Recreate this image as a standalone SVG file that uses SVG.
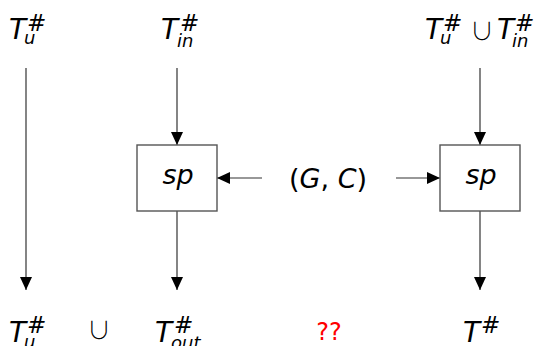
<svg xmlns="http://www.w3.org/2000/svg" width="540" height="346" viewBox="0 0 540 346">
<defs>
<style>
.m{font-family:"DejaVu Sans","Liberation Sans",sans-serif;font-style:italic;fill:#000}
.T{font-size:28px}
.sup{font-size:23px}
.sub{font-size:18px}
.u{font-family:"Noto Sans CJK JP","DejaVu Sans",sans-serif;font-size:24px;font-weight:300;fill:#000}
.ln{stroke:#333;stroke-width:1.2;fill:none}
.box{fill:#fff;stroke:#555;stroke-width:1.4}
.red{font-family:"DejaVu Sans","Liberation Sans",sans-serif;font-size:24px;fill:#f00}
</style>
<marker id="ah" viewBox="0 0 13 12" refX="13" refY="6" markerWidth="13" markerHeight="12" markerUnits="userSpaceOnUse" orient="auto">
<path d="M0,0 L13,6 L0,12 Z" fill="#000"/>
</marker>
</defs>
<rect width="540" height="346" fill="#fff"/>
<g id="connectors">
<line class="ln" x1="26" y1="68" x2="26" y2="290" marker-end="url(#ah)"/>
<line class="ln" x1="177" y1="68" x2="177" y2="145" marker-end="url(#ah)"/>
<line class="ln" x1="177" y1="211" x2="177" y2="290" marker-end="url(#ah)"/>
<line class="ln" x1="480" y1="68" x2="480" y2="145" marker-end="url(#ah)"/>
<line class="ln" x1="480" y1="211" x2="480" y2="290" marker-end="url(#ah)"/>
<line class="ln" x1="262" y1="178" x2="217" y2="178" marker-end="url(#ah)"/>
<line class="ln" x1="396" y1="178" x2="440" y2="178" marker-end="url(#ah)"/>
</g>
<g id="sp1">
<rect class="box" x="137" y="145" width="80" height="66"/>
<text class="m" x="178" y="184" font-size="27" text-anchor="middle">sp</text>
</g>
<g id="sp2">
<rect class="box" x="440" y="145" width="80" height="66"/>
<text class="m" x="481" y="184" font-size="27" text-anchor="middle">sp</text>
</g>
<g id="GC">
<text class="m" x="328" y="188" font-size="27" text-anchor="middle"><tspan font-style="normal">(</tspan>G<tspan font-style="normal">,</tspan> C<tspan font-style="normal">)</tspan></text>
</g>
<g id="Tu-top">
<text class="m T" x="9" y="39">T</text>
<text class="m sup" x="27" y="31">#</text>
<text class="m sub" x="24" y="44">u</text>
</g>
<g id="Tin-top">
<text class="m T" x="161" y="39">T</text>
<text class="m sup" x="180" y="31">#</text>
<text class="m sub" x="177" y="47">in</text>
</g>
<g id="Tunion-top">
<text class="m T" x="425" y="39">T</text>
<text class="m sup" x="443" y="31">#</text>
<text class="m sub" x="440" y="44">u</text>
<text class="u" x="470" y="40">∪</text>
<text class="m T" x="497" y="39">T</text>
<text class="m sup" x="515" y="31">#</text>
<text class="m sub" x="512" y="47">in</text>
</g>
<g id="bottom">
<text class="m T" x="9" y="342">T</text>
<text class="m sup" x="27" y="333">#</text>
<text class="m sub" x="24" y="348">u</text>
<text class="u" x="87" y="339">∪</text>
<text class="m T" x="155" y="342">T</text>
<text class="m sup" x="174" y="333">#</text>
<text class="m sub" x="171" y="349">out</text>
<text class="red" x="329" y="340" text-anchor="middle">??</text>
<text class="m T" x="463" y="342">T</text>
<text class="m sup" x="481" y="333">#</text>
</g>
</svg>
